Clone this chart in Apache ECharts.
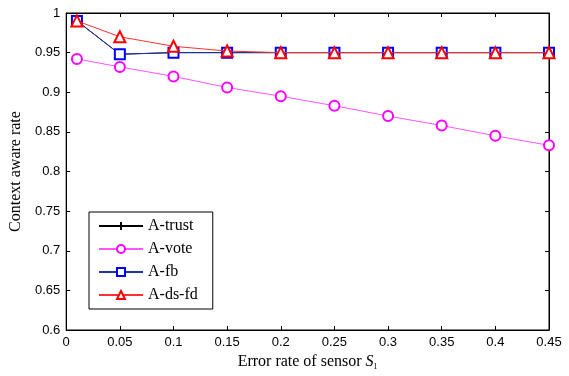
<!DOCTYPE html>
<html><head><meta charset="utf-8">
<script src="https://cdn.jsdelivr.net/npm/echarts@6/dist/echarts.min.js"></script>
<style>html,body{margin:0;padding:0;background:#fff}#c{width:569px;height:376px}</style>
</head><body><div id="c"></div>
<script>
const xValues = [0.01, 0.05, 0.1, 0.15, 0.2, 0.25, 0.3, 0.35, 0.4, 0.45];
const aTrust = [0.99, 0.948, 0.95, 0.95, 0.95, 0.95, 0.95, 0.95, 0.95, 0.95];
const aVote = [0.942, 0.932, 0.920, 0.906, 0.895, 0.883, 0.870, 0.858, 0.845, 0.833];
const aFb = [0.99, 0.948, 0.95, 0.95, 0.95, 0.95, 0.95, 0.95, 0.95, 0.95];
const aDsFd = [0.99, 0.970, 0.958, 0.952, 0.95, 0.95, 0.95, 0.95, 0.95, 0.95];
const seriesNames = ['A-trust', 'A-vote', 'A-fb', 'A-ds-fd'];

const pair = arr => xValues.map((x, i) => [x, arr[i]]);
const chart = echarts.init(document.getElementById('c'), null, {renderer: 'canvas'});
const tickFont = {fontFamily: 'Liberation Sans, Arial, sans-serif', fontSize: 13, color: '#000'};
const serif = 'Liberation Serif, Times New Roman, serif';
const axisCommon = {
  axisLine: {show: true, onZero: false, lineStyle: {color: '#000', width: 1}},
  axisTick: {show: true, inside: true, length: 4, lineStyle: {color: '#000'}},
  splitLine: {show: false}
};
const plus = 'path://M5,0L5,10M0,5L10,5';
chart.setOption({
  animation: false,
  backgroundColor: '#fff',
  grid: {left: 64, right: 20, top: 13, bottom: 43, show: true, borderColor: '#000', borderWidth: 1},
  legend: {
    left: 89, top: 212, orient: 'vertical',
    data: seriesNames,
    backgroundColor: '#fff', borderColor: '#000', borderWidth: 1, borderRadius: 0,
    padding: [5, 15, 5, 9],
    itemWidth: 44, itemHeight: 10, itemGap: 5,
    textStyle: {fontFamily: serif, fontSize: 16, color: '#000', lineHeight: 18}
  },
  xAxis: [
    Object.assign({}, axisCommon, {
      type: 'value', min: 0, max: 0.45, interval: 0.05,
      axisLabel: Object.assign({margin: 6, formatter: v => String(+v.toFixed(2))}, tickFont),
      name: '{t|Error rate of sensor }{i|S}{s|1}',
      nameLocation: 'middle', nameGap: 23,
      nameTextStyle: {rich: {
        t: {fontFamily: serif, fontSize: 16, color: '#000'},
        i: {fontFamily: serif, fontSize: 16, fontStyle: 'italic', color: '#000'},
        s: {fontFamily: serif, fontSize: 8, color: '#000', verticalAlign: 'bottom', padding: [10, 0, 0, 0]}
      }}
    }),
    Object.assign({}, axisCommon, {
      type: 'value', min: 0, max: 0.45, interval: 0.05, position: 'top',
      axisLabel: {show: false}
    })
  ],
  yAxis: [
    Object.assign({}, axisCommon, {
      type: 'value', min: 0.6, max: 1, interval: 0.05,
      axisLabel: Object.assign({margin: 6, formatter: v => String(+v.toFixed(2))}, tickFont),
      name: 'Context aware rate', nameLocation: 'middle', nameGap: 34,
      nameTextStyle: {fontFamily: serif, fontSize: 16, color: '#000'}
    }),
    Object.assign({}, axisCommon, {
      type: 'value', min: 0.6, max: 1, interval: 0.05, position: 'right',
      axisLabel: {show: false}
    })
  ],
  series: [
    {name: 'A-trust', type: 'line', data: pair(aTrust), symbol: plus, symbolSize: 9,
     lineStyle: {color: '#000', width: 1}, itemStyle: {color: '#000', borderColor: '#000', borderWidth: 1}, z: 2},
    {name: 'A-vote', type: 'line', data: pair(aVote), symbol: 'emptyCircle', symbolSize: 10,
     lineStyle: {color: '#ff55ff', width: 1}, itemStyle: {color: '#ff00ff', borderColor: '#ff00ff', borderWidth: 1}, z: 3},
    {name: 'A-fb', type: 'line', data: pair(aFb), symbol: 'emptyRect', symbolSize: 10,
     lineStyle: {color: '#2233aa', width: 1}, itemStyle: {color: '#0000ff', borderColor: '#0000ff', borderWidth: 1}, z: 4},
    {name: 'A-ds-fd', type: 'line', data: pair(aDsFd), symbol: 'emptyTriangle', symbolSize: 11,
     lineStyle: {color: '#ff3030', width: 1}, itemStyle: {color: '#ff0000', borderColor: '#ff0000', borderWidth: 1}, z: 5}
  ]
});
</script>
</body></html>
